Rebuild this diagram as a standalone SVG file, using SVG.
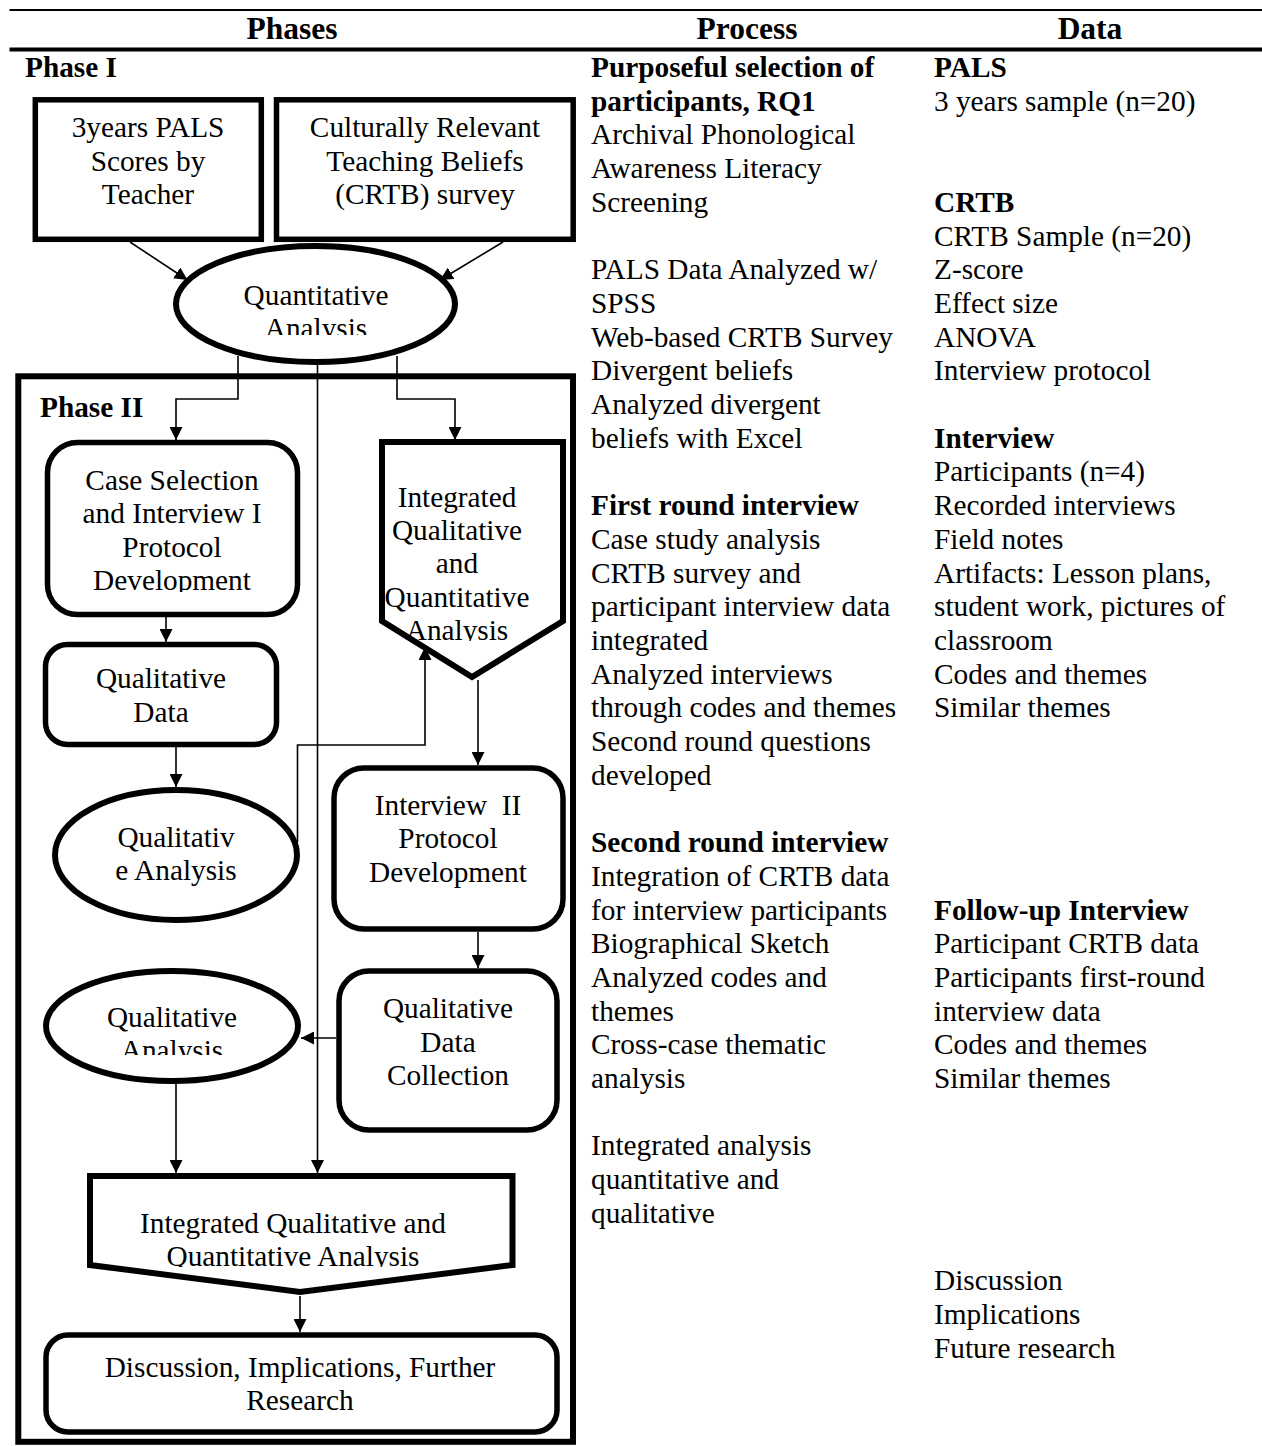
<svg xmlns="http://www.w3.org/2000/svg" width="1262" height="1446" viewBox="0 0 1262 1446">
<style>
text{font-family:"Liberation Serif","Times New Roman",serif;font-size:29.3px;fill:#000}
.b{font-weight:bold}
.h{font-weight:bold;font-size:31.5px}
.c{text-anchor:middle}
.shape{fill:#fff;stroke:#000;stroke-width:5.5}
.thick{fill:#fff;stroke:#000;stroke-width:6}
.conn{fill:none;stroke:#000;stroke-width:1.6}
</style>
<defs>
<marker id="arr" viewBox="0 0 13 13" refX="13" refY="6.5" markerWidth="13" markerHeight="13" markerUnits="userSpaceOnUse" orient="auto">
<path d="M0,0 L13,6.5 L0,13 Z" fill="#000"/>
</marker>
<clipPath id="clipQA"><rect x="0" y="0" width="600" height="335"/></clipPath>
<clipPath id="clipCS"><rect x="0" y="0" width="600" height="592"/></clipPath>
<clipPath id="clipIQ"><rect x="0" y="0" width="600" height="641"/></clipPath>
<clipPath id="clipQA2"><rect x="0" y="0" width="600" height="1055"/></clipPath>
<clipPath id="clipIQ2"><rect x="0" y="0" width="600" height="1267"/></clipPath>
</defs>

<g id="table">
<line x1="9.5" y1="10" x2="1262" y2="10" stroke="#000" stroke-width="2"/>
<line x1="9.5" y1="49.5" x2="1262" y2="49.5" stroke="#000" stroke-width="4"/>
<text class="h c" x="292" y="39">Phases</text>
<text class="h c" x="747" y="39">Process</text>
<text class="h c" x="1090" y="39">Data</text>
</g>

<g id="process-column">
<text class="b" x="591" y="77">Purposeful selection of</text>
<text class="b" x="591" y="110.7">participants, RQ1</text>
<text x="591" y="144.4">Archival Phonological</text>
<text x="591" y="178.1">Awareness Literacy</text>
<text x="591" y="211.8">Screening</text>
<text x="591" y="279.2">PALS Data Analyzed w/</text>
<text x="591" y="312.9">SPSS</text>
<text x="591" y="346.6">Web-based CRTB Survey</text>
<text x="591" y="380.3">Divergent beliefs</text>
<text x="591" y="414">Analyzed divergent</text>
<text x="591" y="447.7">beliefs with Excel</text>
<text class="b" x="591" y="515.1">First round interview</text>
<text x="591" y="548.8">Case study analysis</text>
<text x="591" y="582.5">CRTB survey and</text>
<text x="591" y="616.2">participant interview data</text>
<text x="591" y="649.9">integrated</text>
<text x="591" y="683.6">Analyzed interviews</text>
<text x="591" y="717.3">through codes and themes</text>
<text x="591" y="751">Second round questions</text>
<text x="591" y="784.7">developed</text>
<text class="b" x="591" y="852.1">Second round interview</text>
<text x="591" y="885.8">Integration of CRTB data</text>
<text x="591" y="919.5">for interview participants</text>
<text x="591" y="953.2">Biographical Sketch</text>
<text x="591" y="986.9">Analyzed codes and</text>
<text x="591" y="1020.6">themes</text>
<text x="591" y="1054.3">Cross-case thematic</text>
<text x="591" y="1088">analysis</text>
<text x="591" y="1155.4">Integrated analysis</text>
<text x="591" y="1189.1">quantitative and</text>
<text x="591" y="1222.8">qualitative</text>
</g>

<g id="data-column">
<text class="b" x="934" y="77">PALS</text>
<text x="934" y="110.7">3 years sample (n=20)</text>
<text class="b" x="934" y="211.8">CRTB</text>
<text x="934" y="245.5">CRTB Sample (n=20)</text>
<text x="934" y="279.2">Z-score</text>
<text x="934" y="312.9">Effect size</text>
<text x="934" y="346.6">ANOVA</text>
<text x="934" y="380.3">Interview protocol</text>
<text class="b" x="934" y="447.7">Interview</text>
<text x="934" y="481.4">Participants (n=4)</text>
<text x="934" y="515.1">Recorded interviews</text>
<text x="934" y="548.8">Field notes</text>
<text x="934" y="582.5">Artifacts: Lesson plans,</text>
<text x="934" y="616.2">student work, pictures of</text>
<text x="934" y="649.9">classroom</text>
<text x="934" y="683.6">Codes and themes</text>
<text x="934" y="717.3">Similar themes</text>
<text class="b" x="934" y="919.5">Follow-up Interview</text>
<text x="934" y="953.2">Participant CRTB data</text>
<text x="934" y="986.9">Participants first-round</text>
<text x="934" y="1020.6">interview data</text>
<text x="934" y="1054.3">Codes and themes</text>
<text x="934" y="1088">Similar themes</text>
<text x="934" y="1290.2">Discussion</text>
<text x="934" y="1323.9">Implications</text>
<text x="934" y="1357.6">Future research</text>
</g>

<g id="phase1-label"><text class="b" x="25" y="77">Phase I</text></g>

<g id="phase2-frame">
<rect x="18.3" y="376.3" width="554.7" height="1065.5" fill="none" stroke="#000" stroke-width="6"/>
<text class="b" x="40" y="417">Phase II</text>
</g>

<g id="connectors">
<line class="conn" x1="130" y1="242" x2="187.5" y2="280" marker-end="url(#arr)"/>
<line class="conn" x1="503" y1="242" x2="440" y2="280" marker-end="url(#arr)"/>
<polyline class="conn" points="238,356 238,399 176,399 176,440" marker-end="url(#arr)"/>
<polyline class="conn" points="397,356 397,399 455,399 455,440" marker-end="url(#arr)"/>
<line class="conn" x1="317.5" y1="362" x2="317.5" y2="1173" marker-end="url(#arr)"/>
<line class="conn" x1="166" y1="617" x2="166" y2="642" marker-end="url(#arr)"/>
<line class="conn" x1="176" y1="747" x2="176" y2="787" marker-end="url(#arr)"/>
<polyline class="conn" points="297.5,842 297.5,745 425,745 425,647" marker-end="url(#arr)"/>
<line class="conn" x1="478" y1="680" x2="478" y2="765" marker-end="url(#arr)"/>
<line class="conn" x1="478" y1="932" x2="478" y2="968" marker-end="url(#arr)"/>
<line class="conn" x1="336" y1="1038" x2="301" y2="1038" marker-end="url(#arr)"/>
<line class="conn" x1="176" y1="1083" x2="176" y2="1173" marker-end="url(#arr)"/>
<line class="conn" x1="300" y1="1296" x2="300" y2="1332" marker-end="url(#arr)"/>
</g>

<g id="pals-scores">
<rect class="shape" x="35.3" y="99.8" width="226" height="139.5"/>
<text class="c" x="148" y="137">3years PALS</text>
<text class="c" x="148" y="170.5">Scores by</text>
<text class="c" x="148" y="204">Teacher</text>
</g>

<g id="crtb-survey">
<rect class="shape" x="276.5" y="99.8" width="296.7" height="139.5"/>
<text class="c" x="425" y="137">Culturally Relevant</text>
<text class="c" x="425" y="170.5">Teaching Beliefs</text>
<text class="c" x="425" y="204">(CRTB) survey</text>
</g>

<g id="quantitative-analysis">
<ellipse class="thick" cx="315.5" cy="304" rx="139.5" ry="58"/>
<text class="c" x="316" y="305">Quantitative</text>
<text class="c" x="316" y="338" clip-path="url(#clipQA)">Analysis</text>
</g>

<g id="case-selection">
<rect class="shape" x="47.5" y="442.5" width="250" height="172" rx="30" ry="30"/>
<text class="c" x="172" y="490">Case Selection</text>
<text class="c" x="172" y="523">and Interview I</text>
<text class="c" x="172" y="557">Protocol</text>
<text class="c" x="172" y="590" clip-path="url(#clipCS)">Development</text>
</g>

<g id="qualitative-data">
<rect class="shape" x="45.5" y="644.5" width="231" height="100" rx="22" ry="22"/>
<text class="c" x="161" y="688">Qualitative</text>
<text class="c" x="161" y="722">Data</text>
</g>

<g id="integrated-analysis-1">
<polygon class="thick" points="382,442 563,442 563,621 472,677 382,621"/>
<text class="c" x="457" y="507">Integrated</text>
<text class="c" x="457" y="540">Qualitative</text>
<text class="c" x="457" y="573">and</text>
<text class="c" x="457" y="607">Quantitative</text>
<text class="c" x="457" y="640" clip-path="url(#clipIQ)">Analysis</text>
</g>

<g id="qualitative-analysis-1">
<ellipse class="thick" cx="176" cy="855" rx="121" ry="65"/>
<text class="c" x="176" y="847">Qualitativ</text>
<text class="c" x="176" y="880">e Analysis</text>
</g>

<g id="interview-2">
<rect class="shape" x="334" y="768" width="229" height="161" rx="30" ry="30"/>
<text class="c" x="448" y="815" xml:space="preserve">Interview  II</text>
<text class="c" x="448" y="848">Protocol</text>
<text class="c" x="448" y="882">Development</text>
</g>

<g id="qualitative-data-collection">
<rect class="shape" x="339" y="971" width="218" height="159" rx="30" ry="30"/>
<text class="c" x="448" y="1018">Qualitative</text>
<text class="c" x="448" y="1052">Data</text>
<text class="c" x="448" y="1085">Collection</text>
</g>

<g id="qualitative-analysis-2">
<ellipse class="thick" cx="172" cy="1026" rx="126" ry="55"/>
<text class="c" x="172" y="1027">Qualitative</text>
<text class="c" x="172" y="1060" clip-path="url(#clipQA2)">Analysis</text>
</g>

<g id="integrated-analysis-2">
<polygon class="thick" points="90,1176 512.5,1176 512.5,1265 300,1292 90,1265"/>
<text class="c" x="293" y="1233">Integrated Qualitative and</text>
<text class="c" x="293" y="1266" clip-path="url(#clipIQ2)">Quantitative Analysis</text>
</g>

<g id="discussion">
<rect class="shape" x="46" y="1335" width="511" height="97" rx="22" ry="22"/>
<text class="c" x="300" y="1377">Discussion, Implications, Further</text>
<text class="c" x="300" y="1410">Research</text>
</g>
</svg>
